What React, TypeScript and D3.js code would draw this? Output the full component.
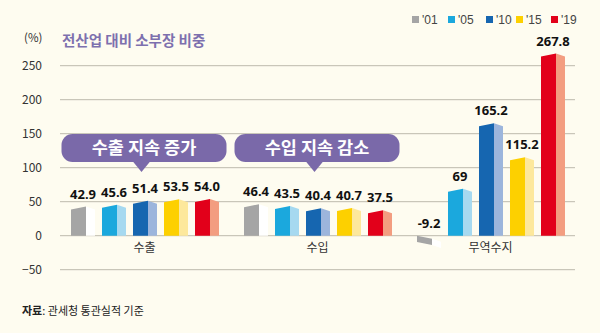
import React from "react";
import * as d3 from "d3";

const categories = ["수출", "수입", "무역수지"];
const years = ["'01", "'05", "'10", "'15", "'19"];
const values01 = [42.9, 46.4, -9.2];
const values05 = [45.6, 43.5, 69];
const values10 = [51.4, 40.4, 165.2];
const values15 = [53.5, 40.7, 115.2];
const values19 = [54.0, 37.5, 267.8];
const labels01 = ["42.9", "46.4", "-9.2"];
const labels05 = ["45.6", "43.5", "69"];
const labels10 = ["51.4", "40.4", "165.2"];
const labels15 = ["53.5", "40.7", "115.2"];
const labels19 = ["54.0", "37.5", "267.8"];
const yTicks = [-50, 0, 50, 100, 150, 200, 250];
const callouts = [
  { text: "수출 지속 증가", group: "수출" },
  { text: "수입 지속 감소", group: "수입" },
];

const frontColors = ["#a5a5a5", "#1ba8dd", "#1666b0", "#fdd000", "#e2001a"];
const sideColors = ["#ffffff", "#a6d9f0", "#9cb5dc", "#fde89c", "#f39d80"];

const W = 600;
const H = 333;
const FONT = "'Noto Sans CJK KR', 'Noto Sans', sans-serif";

export default function App() {
  const series = [values01, values05, values10, values15, values19];
  const seriesLabels = [labels01, labels05, labels10, labels15, labels19];

  const y = d3.scaleLinear().domain([-50, 250]).range([269.7, 65.7]);
  const x0 = d3.scaleBand().domain(categories).range([58, 577]).padding(0);
  const x1 = d3.scaleBand().domain(years).range([-73.5, 74.5]).paddingInner(0.2258).paddingOuter(0);

  const gridLeft = 60;
  const gridRight = 575;
  const frontW = 15;
  const slant = 3;

  const bars: React.ReactNode[] = [];
  categories.forEach((cat, ci) => {
    const gc = x0(cat)! + x0.bandwidth() / 2;
    years.forEach((yr, si) => {
      const v = series[si][ci];
      const xl = gc + x1(yr)!;
      const unitW = x1.bandwidth();
      const xm = xl + frontW;
      const xr = xl + unitW;
      const y0 = y(0);
      const yv = y(v);
      let front: string;
      let side: string;
      if (v >= 0) {
        front = `M${xl},${yv + slant}L${xm},${yv}L${xm},${y0}L${xl},${y0}Z`;
        side = `M${xm},${yv}L${xr},${yv + slant}L${xr},${y0}L${xm},${y0}Z`;
      } else {
        front = `M${xl},${y0}L${xm},${y0 + slant}L${xm},${yv + slant}L${xl},${yv}Z`;
        side = `M${xm},${y0 + slant}L${xr},${y0 + slant * 2}L${xr},${yv + slant * 2}L${xm},${yv + slant}Z`;
      }
      const labelY = v >= 0 ? yv - 8 : y0 - 8;
      bars.push(
        <g key={`${cat}-${yr}`}>
          <path d={side} fill={sideColors[si]} />
          <path d={front} fill={frontColors[si]} />
          <text
            x={xl + unitW / 2}
            y={labelY}
            textAnchor="middle"
            fontFamily="'Noto Sans', sans-serif"
            fontWeight={700}
            fontSize={13}
            fill="#111"
          >
            {seriesLabels[si][ci]}
          </text>
        </g>
      );
    });
  });

  const legendX = [412, 448, 486, 516, 551];

  return (
    <div style={{ position: "absolute", left: 0, top: 0 }}>
      <svg width={W} height={H} style={{ display: "block" }}>
        <rect width={W} height={H} fill="#fefcf0" />
        {yTicks.map((t) => (
          <g key={t}>
            <line x1={gridLeft} x2={gridRight} y1={y(t)} y2={y(t)} stroke="#bdb9ad" strokeWidth={1} />
            <text
              x={42}
              y={y(t)}
              dy="0.35em"
              textAnchor="end"
              fontFamily={FONT}
              fontSize={12}
              fill="#333"
            >
              {t < 0 ? `−${Math.abs(t)}` : t}
            </text>
          </g>
        ))}
        <text x={24} y={42} fontFamily={FONT} fontSize={11.5} fill="#333">(%)</text>
        <text x={62} y={46} fontFamily={FONT} fontSize={14.5} fontWeight={700} fill="#7d70ae">
          전산업 대비 소부장 비중
        </text>

        {bars}

        {categories.map((cat) => (
          <text
            key={cat}
            x={x0(cat)! + x0.bandwidth() / 2}
            y={252}
            textAnchor="middle"
            fontFamily={FONT}
            fontSize={12}
            fill="#333"
          >
            {cat}
          </text>
        ))}

        {callouts.map((c) => {
          const gc = x0(c.group)! + x0.bandwidth() / 2;
          const left = gc - 83;
          const w = 165;
          const top = 134;
          const h = 28;
          const tip = gc - 3;
          return (
            <g key={c.text}>
              <rect x={left} y={top} width={w} height={h} rx={11} fill="#7a69a9" />
              <path d={`M${tip - 9},${top + h - 1}L${tip + 9},${top + h - 1}L${tip},${top + h + 10}Z`} fill="#7a69a9" />
              <text
                x={left + w / 2}
                y={top + h / 2}
                dy="0.36em"
                textAnchor="middle"
                fontFamily={FONT}
                fontWeight={700}
                fontSize={17.5}
                fill="#ffffff"
              >
                {c.text}
              </text>
            </g>
          );
        })}

        {years.map((yr, i) => (
          <g key={yr}>
            <rect x={legendX[i]} y={16} width={7} height={7} fill={frontColors[i]} />
            <text x={legendX[i] + 10} y={19.5} dy="0.36em" fontFamily="'Liberation Sans', sans-serif" fontSize={12} fill="#444">
              {yr}
            </text>
          </g>
        ))}

        <text x={22} y={315} fontFamily={FONT} fontSize={11} fill="#222">
          <tspan fontWeight={700}>자료</tspan>
          <tspan>: 관세청 통관실적 기준</tspan>
        </text>
      </svg>
    </div>
  );
}
